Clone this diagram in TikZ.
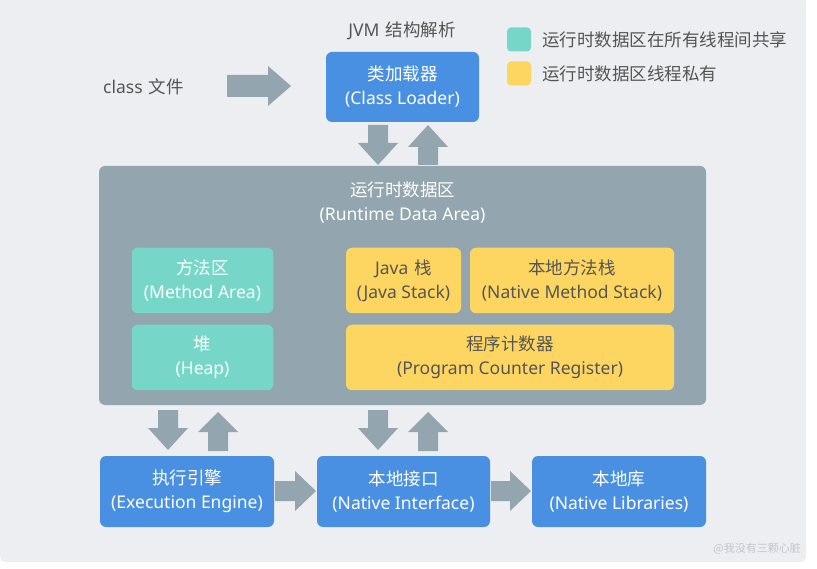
\documentclass[tikz,border=0pt]{standalone}
\usepackage{fontspec}
\setmainfont{Noto Sans CJK SC}
\newfontfamily\latf{Noto Sans}
\newcommand\lt[1]{{\latf #1}}
\newcommand\gap{\hspace{6pt}}
\definecolor{bgc}{HTML}{EDEEF2}
\definecolor{bluc}{HTML}{4A90E2}
\definecolor{gryc}{HTML}{93A5AE}
\definecolor{tealc}{HTML}{76D7C9}
\definecolor{yelc}{HTML}{FDD662}
\definecolor{txtc}{HTML}{555555}
\definecolor{wmc}{HTML}{C4C6CC}
\newcommand\arrDown[4]{\fill[gryc] (#1-10,#2) -- (#1+10,#2) -- (#1+10,#3) -- (#1+20,#3) -- (#1,#4) -- (#1-20,#3) -- (#1-10,#3) -- cycle;}
\newcommand\arrUp[4]{\fill[gryc] (#1-10,#2) -- (#1+10,#2) -- (#1+10,#3) -- (#1+20,#3) -- (#1,#4) -- (#1-20,#3) -- (#1-10,#3) -- cycle;}
\newcommand\arrRight[5]{\fill[gryc] (#2,#1-#5) -- (#3,#1-#5) -- (#3,#1-20) -- (#4,#1) -- (#3,#1+20) -- (#3,#1+#5) -- (#2,#1+#5) -- cycle;}
\begin{document}
\begin{tikzpicture}[x=1pt,y=-1pt,
  txt/.style={font=\fontsize{17.5}{24}\selectfont, align=center, inner sep=0},
  box/.style={txt, rounded corners=6pt, inner sep=0, minimum width=#1},
  bluebox/.style={box=#1, fill=bluc, text=white, minimum height=71},
  tealbox/.style={box=#1, fill=tealc, text=white, minimum height=65.5},
  yelbox/.style={box=#1, fill=yelc, text=txtc, minimum height=65.5},
  legsq/.style={rounded corners=4pt, minimum width=24, minimum height=24, inner sep=0}]
\useasboundingbox (0,0) rectangle (817,569);
\fill[bgc, rounded corners=5pt] (0,0) rectangle (806,562);
\fill[bgc] (0,0) rectangle (806,100);
% title
\node[txt, text=txtc] (title) at (402,31) {\lt{JVM}\gap 结构解析};
% legend
\node[legsq, fill=tealc] (lg1) at (519,39.5) {};
\node[legsq, fill=yelc] (lg2) at (519,73.5) {};
\node[txt, text=txtc, anchor=west] (lt1) at (542,39.5) {运行时数据区在所有线程间共享};
\node[txt, text=txtc, anchor=west] (lt2) at (542,73.5) {运行时数据区线程私有};
% class file
\node[txt, text=txtc, anchor=west] (cls) at (103,87) {\lt{class}\gap 文件};
\arrRight{86}{227}{268}{291}{11}
% class loader
\node[bluebox=153, minimum height=70] (cl) at (402.5,87) {类加载器\\\lt{(Class Loader)}};
\arrDown{378}{125}{143}{165}
\arrUp{428}{165}{147}{125}
% runtime data area
\node[rounded corners=6pt, fill=gryc, minimum width=607, minimum height=239, inner sep=0] (rda) at (402.5,285.5) {};
\node[txt, text=white] (rdat) at (402.5,203) {运行时数据区\\\lt{(Runtime Data Area)}};
\node[tealbox=141.5] (ma) at (202.5,280.5) {方法区\\\lt{(Method Area)}};
\node[tealbox=141.5] (hp) at (202.5,357.5) {堆\\\lt{(Heap)}};
\node[yelbox=115] (js) at (403.5,280.5) {\lt{Java}\gap 栈\\\lt{(Java Stack)}};
\node[yelbox=204] (nms) at (572,280.5) {本地方法栈\\\lt{(Native Method Stack)}};
\node[yelbox=328] (pc) at (510,357.5) {程序计数器\\\lt{(Program Counter Register)}};
% bottom arrows
\arrDown{168}{410}{428}{450}
\arrUp{218}{451}{432}{412}
\arrDown{378}{410}{428}{450}
\arrUp{428}{451}{432}{412}
% bottom boxes
\node[bluebox=174] (ee) at (187,491.5) {执行引擎\\\lt{(Execution Engine)}};
\node[bluebox=173] (ni) at (403.5,491.5) {本地接口\\\lt{(Native Interface)}};
\node[bluebox=174] (nl) at (619,491.5) {本地库\\\lt{(Native Libraries)}};
\arrRight{491}{275}{295}{316}{10}
\arrRight{491}{491}{510}{531}{10}
% watermark
\node[font=\fontsize{11}{12}\selectfont, text=wmc, inner sep=0, anchor=east] (wm) at (801,549) {@我没有三颗心脏};
\end{tikzpicture}
\end{document}
